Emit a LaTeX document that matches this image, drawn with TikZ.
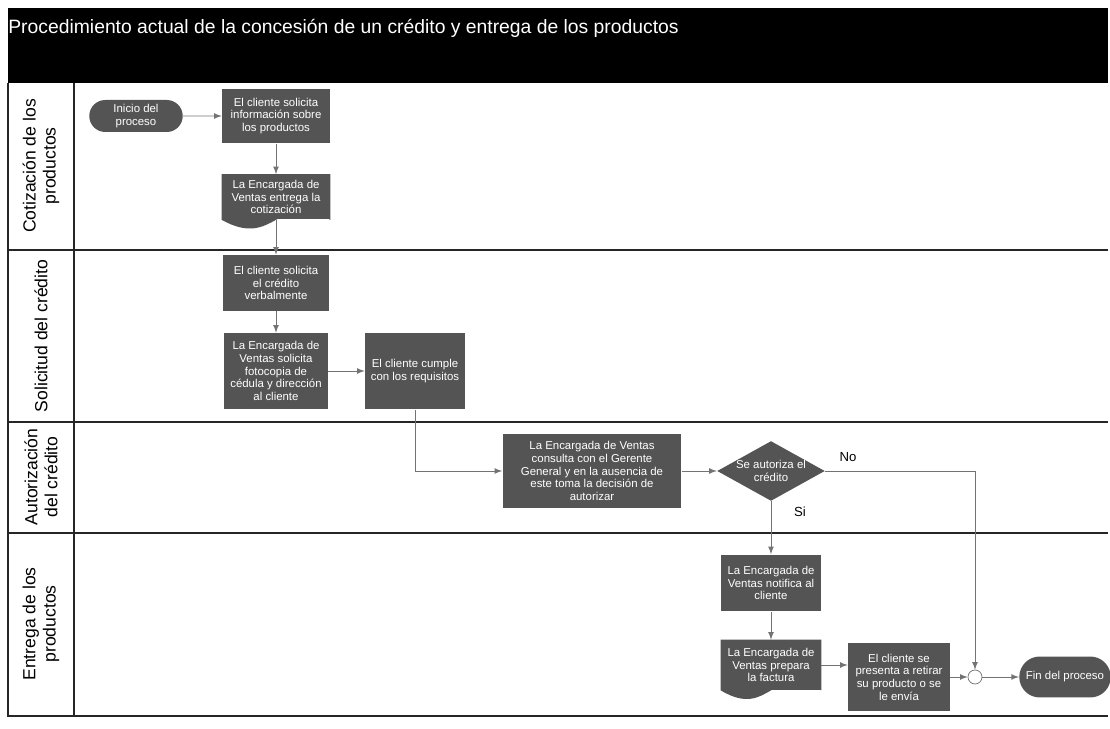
\documentclass[tikz,border=0pt]{standalone}
\usepackage{fontspec}
\setmainfont{Liberation Sans}
\usetikzlibrary{shapes.geometric,shapes.misc,backgrounds}
\definecolor{cajagris}{gray}{0.33}
\definecolor{lineagris}{gray}{0.45}
\tikzset{
  caja/.style={rectangle, fill=cajagris, text=white, align=center, inner sep=1pt,
               font=\fontsize{6.5}{7.2}\selectfont},
  inicio/.style={caja, rounded rectangle},
  decide/.style={caja, diamond, aspect=1.8, inner sep=0pt},
  flecha/.style={-latex, lineagris, line width=0.5pt},
  carril/.style={line width=0.9pt, black!85},
  etiq/.style={rotate=90, align=center, font=\fontsize{10}{11.5}\selectfont},
}
\begin{document}
\begin{tikzpicture}[x=0.02cm, y=-0.02cm]
        \useasboundingbox (0,0) rectangle (1110,729);
        %cabecera
        \fill[black] (8,8) rectangle (1108,83);
        \node (titulo) at (8,28)[anchor=west, inner sep=0pt, text=white, font=\fontsize{11}{13}\selectfont]
              {Procedimiento actual de la concesión de un crédito y entrega de los productos};
        %carriles
        \draw[carril] (8,83)--(8,716)--(1108,716);
        \draw[carril] (74,83)--(74,716);
        \draw[carril] (8,250)--(1108,250);
        \draw[carril] (8,422)--(1108,422);
        \draw[carril] (8,533)--(1108,533);
        %etiquetas
        \node (l1) at (41,166)[etiq]{Cotización de los\\productos};
        \node (l2) at (41,336)[etiq]{Solicitud del crédito};
        \node (l3) at (41,477)[etiq]{Autorización\\del crédito};
        \node (l4) at (41,624)[etiq]{Entrega de los\\productos};

        %cotizacion
        \node (ini) at (136,116)[inicio, minimum width=1.94cm, minimum height=0.64cm]{Inicio del\\proceso};
        \node (info) at (276,116)[caja, minimum width=2.16cm, minimum height=1.1cm]
              {El cliente solicita\\información sobre\\los productos};
        \node (coti) at (276,197)[caja, minimum width=2.16cm, minimum height=0.9cm]
              {La Encargada de\\Ventas entrega la\\cotización};
        %solicitud
        \node (cred) at (276,283)[caja, minimum width=2.12cm, minimum height=1.12cm]
              {El cliente solicita\\el crédito\\verbalmente};
        \node (foto) at (276,371)[caja, minimum width=2.08cm, minimum height=1.52cm]
              {La Encargada de\\Ventas solicita\\fotocopia de\\cédula y dirección\\al cliente};
        \node (cumple) at (415,371)[caja, minimum width=2.0cm, minimum height=1.54cm]
              {El cliente cumple\\con los requisitos};
        %autorizacion
        \node (consulta) at (592,471)[caja, minimum width=3.58cm, minimum height=1.5cm]
              {La Encargada de Ventas\\consulta con el Gerente\\General y en la ausencia de\\este toma la decisión de\\autorizar};
        \node (dec) at (771,471)[decide, minimum width=1.96cm, minimum height=1.1cm]{Se autoriza el\\crédito};
        \node (no) at (848,457)[font=\fontsize{7.5}{9}\selectfont]{No};
        \node (si) at (800,512)[font=\fontsize{7.5}{9}\selectfont]{Si};
        %entrega
        \node (notif) at (771,583)[caja, minimum width=2.0cm, minimum height=1.14cm]
              {La Encargada de\\Ventas notifica al\\cliente};
        \node (fact) at (771,665)[caja, minimum width=2.0cm, minimum height=1.0cm]
              {La Encargada de\\Ventas prepara\\la factura};
        \node (pres) at (899,677)[caja, minimum width=2.04cm, minimum height=1.36cm]
              {El cliente se\\presenta a retirar\\su producto o se\\le envía};
        \node (une) at (975,677)[circle, draw=lineagris, fill=white, minimum size=0.28cm, inner sep=0pt]{};
        \node (fin) at (1065,677)[inicio, minimum width=1.9cm, minimum height=0.82cm]{Fin del proceso};

        %documentos
        \begin{scope}[on background layer]
        \fill[cajagris] (coti.north west)--(coti.south west)
              .. controls +(1.08cm,-0.6cm) and +(-1.08cm,0.6cm) .. (coti.south east)--(coti.north east)--cycle;
        \fill[cajagris] (fact.north west)--(fact.south west)
              .. controls +(1.0cm,-0.6cm) and +(-1.0cm,0.6cm) .. (fact.south east)--(fact.north east)--cycle;
        \end{scope}

        %flechas
        \draw[flecha] (ini)--(info);
        \draw[flecha] (info)--(coti);
        \draw[flecha] (coti)--(cred);
        \draw[flecha] (cred)--(foto);
        \draw[flecha] (foto)--(cumple);
        \draw[flecha] (cumple.south) |- (consulta.west);
        \draw[flecha] (consulta)--(dec);
        \draw[flecha] (dec.east) -| (une.north);
        \draw[flecha] (dec)--(notif);
        \draw[flecha] (notif)--(fact);
        \draw[flecha] (fact.east)--(fact.east -| pres.west);
        \draw[flecha] (pres)--(une);
        \draw[flecha] (une)--(fin);
\end{tikzpicture}
\end{document}
